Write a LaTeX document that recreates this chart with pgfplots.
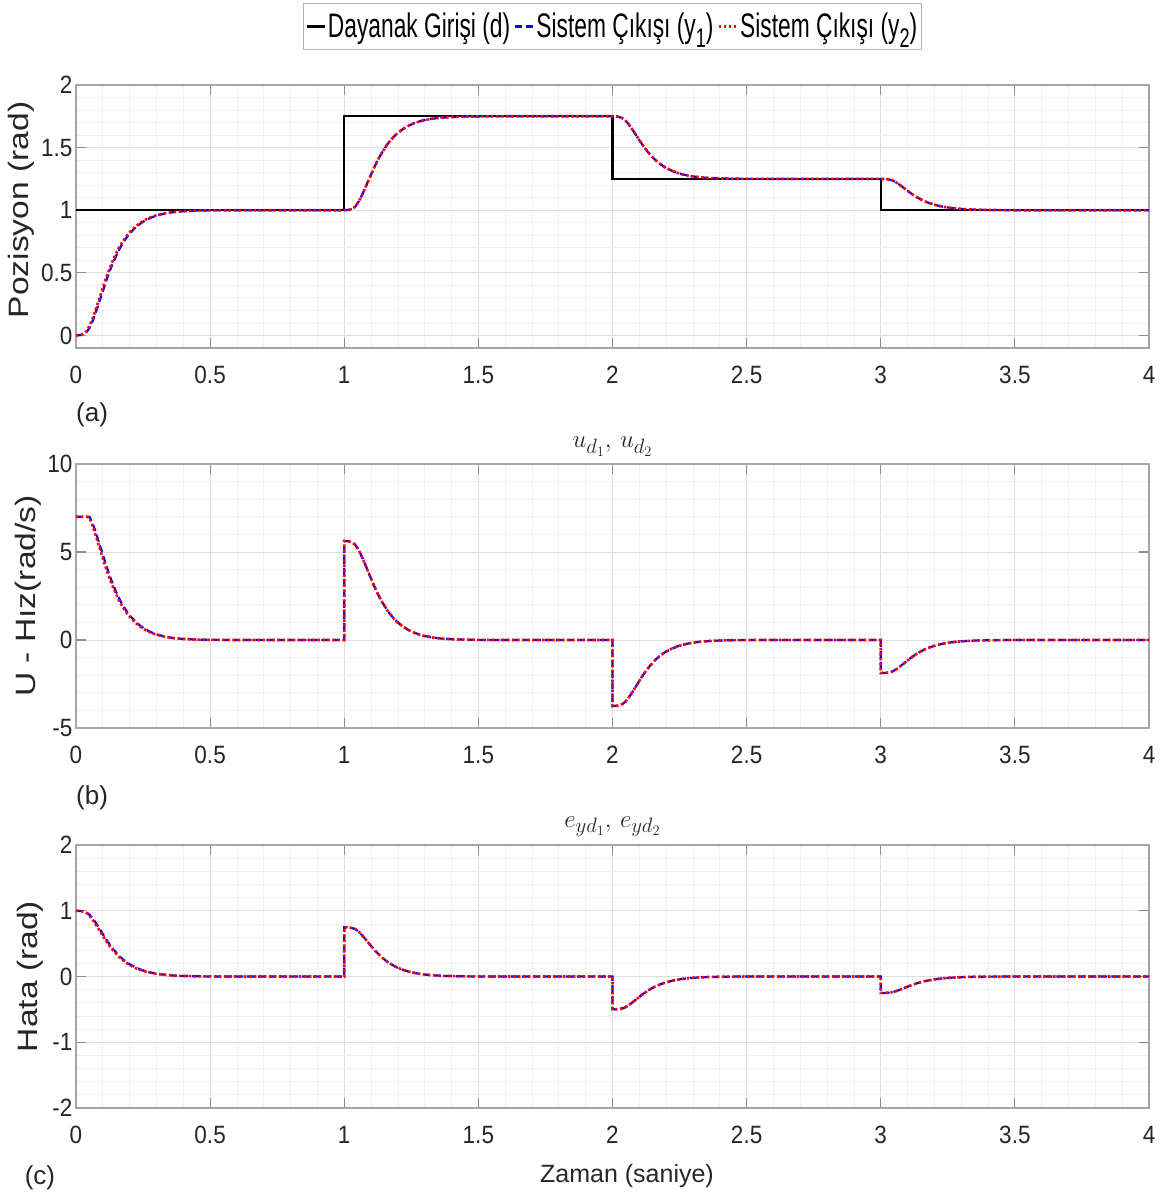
\documentclass[border=0pt]{standalone}
\usepackage{fontspec}
\setmainfont{Liberation Sans}
\newfontfamily\tickfont{Liberation Sans}[FakeStretch=0.9]
\newfontfamily\legfont{Liberation Sans}[FakeStretch=0.67]
\newfontfamily\ylabfont{Liberation Sans}[FakeStretch=1.2]
\usepackage{pgfplots}
\usepackage{pgfplotstable}
\pgfplotsset{compat=1.18}

\definecolor{tickgray}{rgb}{0.15,0.15,0.15}

\pgfplotstableread{
t y1 y2
0 0 0
0.02 0.004 0.005
0.04 0.029 0.035
0.05 0.059 0.075
0.06 0.105 0.125
0.07 0.161 0.185
0.08 0.224 0.25
0.09 0.289 0.315
0.10 0.354 0.38
0.11 0.419 0.445
0.12 0.481 0.505
0.13 0.538 0.56
0.14 0.59 0.61
0.15 0.637 0.655
0.16 0.682 0.70
0.17 0.721 0.735
0.18 0.755 0.768
0.19 0.786 0.798
0.20 0.814 0.824
0.22 0.858 0.867
0.24 0.893 0.90
0.26 0.921 0.926
0.28 0.941 0.945
0.30 0.957 0.96
0.33 0.973 0.975
0.36 0.984 0.985
0.40 0.992 0.992
0.45 0.997 0.997
0.50 0.999 0.999
0.60 1 1
1.00 1 1
1.02 1.004 1.004
1.04 1.026 1.026
1.05 1.056 1.056
1.06 1.094 1.094
1.07 1.139 1.139
1.08 1.1875 1.1875
1.09 1.236 1.236
1.10 1.285 1.285
1.11 1.334 1.334
1.12 1.379 1.379
1.13 1.42 1.42
1.14 1.4575 1.4575
1.15 1.491 1.491
1.16 1.525 1.525
1.17 1.551 1.551
1.18 1.576 1.576
1.19 1.5985 1.5985
1.20 1.618 1.618
1.22 1.65 1.65
1.24 1.675 1.675
1.26 1.6945 1.6945
1.28 1.709 1.709
1.30 1.72 1.72
1.33 1.731 1.731
1.36 1.739 1.739
1.40 1.744 1.744
1.45 1.748 1.748
1.50 1.749 1.749
1.60 1.75 1.75
2.00 1.75 1.75
2.02 1.7475 1.7475
2.04 1.7325 1.7325
2.05 1.7125 1.7125
2.06 1.6875 1.6875
2.07 1.6575 1.6575
2.08 1.625 1.625
2.09 1.5925 1.5925
2.10 1.56 1.56
2.11 1.5275 1.5275
2.12 1.4975 1.4975
2.13 1.47 1.47
2.14 1.445 1.445
2.15 1.4225 1.4225
2.16 1.40 1.40
2.17 1.3825 1.3825
2.18 1.366 1.366
2.19 1.351 1.351
2.20 1.338 1.338
2.22 1.3165 1.3165
2.24 1.30 1.30
2.26 1.287 1.287
2.28 1.2775 1.2775
2.30 1.27 1.27
2.33 1.2625 1.2625
2.36 1.2575 1.2575
2.40 1.254 1.254
2.45 1.2515 1.2515
2.50 1.2505 1.2505
2.60 1.25 1.25
3.00 1.25 1.25
3.02 1.249 1.249
3.04 1.241 1.241
3.05 1.231 1.231
3.06 1.219 1.219
3.07 1.204 1.204
3.08 1.1875 1.1875
3.09 1.171 1.171
3.10 1.155 1.155
3.11 1.139 1.139
3.12 1.124 1.124
3.13 1.11 1.11
3.14 1.0975 1.0975
3.15 1.086 1.086
3.16 1.075 1.075
3.17 1.066 1.066
3.18 1.058 1.058
3.19 1.0505 1.0505
3.20 1.044 1.044
3.22 1.033 1.033
3.24 1.025 1.025
3.26 1.0185 1.0185
3.28 1.014 1.014
3.30 1.01 1.01
3.33 1.006 1.006
3.36 1.004 1.004
3.40 1.002 1.002
3.45 1.001 1.001
3.50 1.0 1.0
4.00 1.0 1.0
}\postab

\pgfplotstableread{
t d
0 1
1 1
1 1.75
2 1.75
2 1.25
3 1.25
3 1
4 1
}\reftab

\pgfplotstableread{
t u1 u2
0 7 7
0.02 7 7
0.04 7 7
0.05 7 6.94
0.06 6.71 6.56
0.07 6.29 6.11
0.08 5.82 5.63
0.09 5.33 5.14
0.10 4.85 4.65
0.11 4.36 4.16
0.12 3.89 3.71
0.13 3.47 3.30
0.14 3.08 2.93
0.15 2.72 2.59
0.16 2.39 2.25
0.17 2.09 1.99
0.18 1.84 1.74
0.19 1.61 1.52
0.20 1.40 1.32
0.22 1.07 1.0
0.24 0.80 0.75
0.26 0.59 0.555
0.28 0.44 0.41
0.30 0.32 0.30
0.33 0.20 0.19
0.36 0.12 0.11
0.40 0.06 0.06
0.45 0.02 0.02
0.50 0.01 0.01
0.60 0 0
1.00 0 0
1.00 5.625 5.625
1.02 5.597 5.597
1.04 5.428 5.428
1.05 5.203 5.203
1.06 4.922 4.922
1.07 4.584 4.584
1.08 4.219 4.219
1.09 3.853 3.853
1.10 3.488 3.488
1.11 3.122 3.122
1.12 2.784 2.784
1.13 2.475 2.475
1.14 2.194 2.194
1.15 1.941 1.941
1.16 1.688 1.688
1.17 1.491 1.491
1.18 1.305 1.305
1.19 1.136 1.136
1.20 0.99 0.99
1.22 0.748 0.748
1.24 0.5625 0.5625
1.26 0.416 0.416
1.28 0.309 0.309
1.30 0.225 0.225
1.33 0.141 0.141
1.36 0.084 0.084
1.40 0.045 0.045
1.45 0.017 0.017
1.50 0.006 0.006
1.60 0 0
2.00 0 0
2.00 -3.75 -3.75
2.02 -3.731 -3.731
2.04 -3.619 -3.619
2.05 -3.469 -3.469
2.06 -3.281 -3.281
2.07 -3.056 -3.056
2.08 -2.8125 -2.8125
2.09 -2.569 -2.569
2.10 -2.325 -2.325
2.11 -2.081 -2.081
2.12 -1.856 -1.856
2.13 -1.65 -1.65
2.14 -1.4625 -1.4625
2.15 -1.294 -1.294
2.16 -1.125 -1.125
2.17 -0.994 -0.994
2.18 -0.87 -0.87
2.19 -0.7575 -0.7575
2.20 -0.66 -0.66
2.22 -0.499 -0.499
2.24 -0.375 -0.375
2.26 -0.2775 -0.2775
2.28 -0.206 -0.206
2.30 -0.15 -0.15
2.33 -0.094 -0.094
2.36 -0.056 -0.056
2.40 -0.03 -0.03
2.45 -0.011 -0.011
2.50 -0.004 -0.004
2.60 0 0
3.00 0 0
3.00 -1.875 -1.875
3.02 -1.866 -1.866
3.04 -1.809 -1.809
3.05 -1.734 -1.734
3.06 -1.641 -1.641
3.07 -1.528 -1.528
3.08 -1.406 -1.406
3.09 -1.284 -1.284
3.10 -1.163 -1.163
3.11 -1.041 -1.041
3.12 -0.928 -0.928
3.13 -0.825 -0.825
3.14 -0.731 -0.731
3.15 -0.647 -0.647
3.16 -0.5625 -0.5625
3.17 -0.497 -0.497
3.18 -0.435 -0.435
3.19 -0.379 -0.379
3.20 -0.33 -0.33
3.22 -0.249 -0.249
3.24 -0.1875 -0.1875
3.26 -0.139 -0.139
3.28 -0.103 -0.103
3.30 -0.075 -0.075
3.33 -0.047 -0.047
3.36 -0.028 -0.028
3.40 -0.015 -0.015
3.45 -0.006 -0.006
3.50 -0.002 -0.002
3.60 0 0
4.00 0 0
}\utab

\pgfplotstableread{
t e1 e2
0 1 1
0.02 0.996 0.995
0.04 0.971 0.965
0.05 0.941 0.925
0.06 0.895 0.875
0.07 0.839 0.815
0.08 0.776 0.75
0.09 0.711 0.685
0.10 0.646 0.62
0.11 0.581 0.555
0.12 0.519 0.495
0.13 0.462 0.44
0.14 0.41 0.39
0.15 0.363 0.345
0.16 0.318 0.30
0.17 0.279 0.265
0.18 0.245 0.232
0.19 0.214 0.202
0.20 0.186 0.176
0.22 0.142 0.133
0.24 0.107 0.10
0.26 0.079 0.074
0.28 0.059 0.055
0.30 0.043 0.04
0.33 0.027 0.025
0.36 0.016 0.015
0.40 0.008 0.008
0.45 0.003 0.003
0.50 0.001 0.001
0.60 0 0
1.00 0 0
1.00 0.75 0.75
1.02 0.746 0.746
1.04 0.724 0.724
1.05 0.694 0.694
1.06 0.656 0.656
1.07 0.611 0.611
1.08 0.5625 0.5625
1.09 0.514 0.514
1.10 0.465 0.465
1.11 0.416 0.416
1.12 0.371 0.371
1.13 0.33 0.33
1.14 0.2925 0.2925
1.15 0.259 0.259
1.16 0.225 0.225
1.17 0.199 0.199
1.18 0.174 0.174
1.19 0.1515 0.1515
1.20 0.132 0.132
1.22 0.100 0.100
1.24 0.075 0.075
1.26 0.0555 0.0555
1.28 0.041 0.041
1.30 0.03 0.03
1.33 0.019 0.019
1.36 0.011 0.011
1.40 0.006 0.006
1.45 0.002 0.002
1.50 0.001 0.001
1.60 0 0
2.00 0 0
2.00 -0.5 -0.5
2.02 -0.4975 -0.4975
2.04 -0.4825 -0.4825
2.05 -0.4625 -0.4625
2.06 -0.4375 -0.4375
2.07 -0.4075 -0.4075
2.08 -0.375 -0.375
2.09 -0.3425 -0.3425
2.10 -0.31 -0.31
2.11 -0.2775 -0.2775
2.12 -0.2475 -0.2475
2.13 -0.22 -0.22
2.14 -0.195 -0.195
2.15 -0.1725 -0.1725
2.16 -0.15 -0.15
2.17 -0.1325 -0.1325
2.18 -0.116 -0.116
2.19 -0.101 -0.101
2.20 -0.088 -0.088
2.22 -0.0665 -0.0665
2.24 -0.05 -0.05
2.26 -0.037 -0.037
2.28 -0.0275 -0.0275
2.30 -0.02 -0.02
2.33 -0.0125 -0.0125
2.36 -0.0075 -0.0075
2.40 -0.004 -0.004
2.45 -0.0015 -0.0015
2.50 -0.0005 -0.0005
2.60 0 0
3.00 0 0
3.00 -0.25 -0.25
3.02 -0.249 -0.249
3.04 -0.241 -0.241
3.05 -0.231 -0.231
3.06 -0.219 -0.219
3.07 -0.204 -0.204
3.08 -0.1875 -0.1875
3.09 -0.171 -0.171
3.10 -0.155 -0.155
3.11 -0.139 -0.139
3.12 -0.124 -0.124
3.13 -0.11 -0.11
3.14 -0.0975 -0.0975
3.15 -0.086 -0.086
3.16 -0.075 -0.075
3.17 -0.066 -0.066
3.18 -0.058 -0.058
3.19 -0.0505 -0.0505
3.20 -0.044 -0.044
3.22 -0.033 -0.033
3.24 -0.025 -0.025
3.26 -0.0185 -0.0185
3.28 -0.014 -0.014
3.30 -0.01 -0.01
3.33 -0.006 -0.006
3.36 -0.004 -0.004
3.40 -0.002 -0.002
3.45 -0.001 -0.001
3.50 0 0
4.00 0 0
}\etab

\pgfplotsset{
  y1style/.style={blue, line width=2.2pt, dash pattern=on 7pt off 4pt},
  y2style/.style={red, line width=2.6pt, dash pattern=on 2.5pt off 2.5pt},
  matlab/.style={
    scale only axis,
    clip mode=individual,
    width=1073pt,
    xmin=0, xmax=4,
    xtick={0,0.5,1,1.5,2,2.5,3,3.5,4},
    xticklabels={0,0.5,1,1.5,2,2.5,3,3.5,4},
    minor x tick num=4,
    minor y tick num=4,
    grid=both,
    major grid style={black!13, line width=0.9pt},
    minor grid style={black!6, line width=0.8pt},
    axis line style={black!35, line width=1.2pt},
    every tick/.style={black!45, line width=1.2pt},
    tick align=inside,
    major tick length=10pt,
    minor tick length=0pt,
    /pgf/number format/assume math mode=true,
    tick label style={font=\tickfont\fontsize{25}{27}\selectfont, text=tickgray},
    xticklabel style={yshift=-15pt},
    ylabel style={font=\ylabfont\fontsize{28}{30}\selectfont, text=tickgray, anchor=center},
    title style={font=\fontsize{28}{30}\selectfont, text=tickgray, at={(axis description cs:0.5,1)}, anchor=base, inner sep=0pt},
  },
}

\begin{document}
\begin{tikzpicture}
\useasboundingbox (0pt,0pt) rectangle (1169pt,1200pt);

% ---------- Panel (a)
\begin{axis}[matlab,
  at={(76pt,852pt)}, anchor=south west,
  height=263pt,
  ymin=-0.1, ymax=2,
  ytick={0,0.5,1,1.5,2},
  yticklabels={0,0.5,1,1.5,2},
  ylabel={Pozisyon (rad)},
  ylabel style={at={(axis description cs:-0.0513,0.525)}},
  legend columns=3,
  legend style={at={(axis description cs:0.5,1)}, anchor=south, yshift=35pt,
    draw=black!30, line width=1pt, fill=white,
    inner xsep=2pt, inner ysep=1pt,
    font=\legfont\fontsize{34}{36}\selectfont,
    nodes={inner xsep=2pt, inner ysep=9pt},
    /tikz/every odd column/.append style={column sep=0pt},
    /tikz/every even column/.append style={column sep=2pt}},
  legend image code/.code={\draw[#1] (0pt,0pt) -- (18pt,0pt);},
]
\addplot[black, line width=2.2pt] table[x=t, y=d] {\reftab};
\addlegendentry{Dayanak Girişi (d)}
\addplot[y1style] table[x=t, y=y1] {\postab};
\addlegendentry{Sistem Çıkışı (y\raisebox{-10pt}{\fontsize{27}{27}\selectfont 1})}
\addplot[y2style] table[x=t, y=y2] {\postab};
\addlegendentry{Sistem Çıkışı (y\raisebox{-10pt}{\fontsize{27}{27}\selectfont 2})}
\node[font=\fontsize{26}{28}\selectfont, text=tickgray] at (axis description cs:0.015,-0.255) {(a)};
\end{axis}

% ---------- Panel (b)
\begin{axis}[matlab,
  at={(76pt,472pt)}, anchor=south west,
  height=264pt,
  ymin=-5, ymax=10,
  ytick={-5,0,5,10},
  yticklabels={-5,0,5,10},
  ylabel={U - Hız(rad/s)},
  ylabel style={at={(axis description cs:-0.0447,0.5)}},
  title={$u_{d_1},\, u_{d_2}$},
  title style={yshift=10pt},
]
\addplot[y1style] table[x=t, y=u1] {\utab};
\addplot[y2style] table[x=t, y=u2] {\utab};
\node[font=\fontsize{26}{28}\selectfont, text=tickgray] at (axis description cs:0.015,-0.264) {(b)};
\end{axis}

% ---------- Panel (c)
\begin{axis}[matlab,
  at={(76pt,92pt)}, anchor=south west,
  height=263pt,
  ymin=-2, ymax=2,
  ytick={-2,-1,0,1,2},
  yticklabels={-2,-1,0,1,2},
  ylabel={Hata (rad)},
  ylabel style={at={(axis description cs:-0.0429,0.5)}},
  title={$e_{yd_1},\, e_{yd_2}$},
  title style={yshift=12pt},
  xlabel={Zaman (saniye)},
  xlabel style={at={(axis description cs:0.5135,-0.2814)}, anchor=base, inner sep=0pt,
    font=\fontsize{25}{27}\selectfont, text=tickgray},
]
\addplot[y1style] table[x=t, y=e1] {\etab};
\addplot[y2style] table[x=t, y=e2] {\etab};
\node[font=\fontsize{26}{28}\selectfont, text=tickgray] at (axis description cs:-0.0336,-0.265) {(c)};
\end{axis}
\end{tikzpicture}
\end{document}
